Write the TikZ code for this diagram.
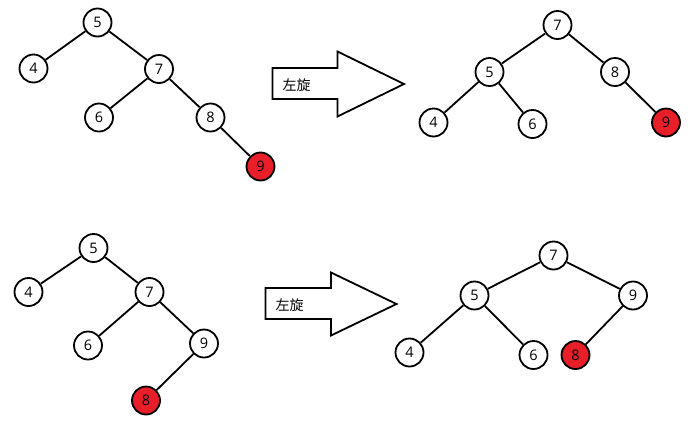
\documentclass[tikz,border=0pt]{standalone}
\usepackage{fontspec}
\setmainfont{Open Sans}
\newfontfamily\cjk{Noto Sans CJK SC}
\definecolor{nodered}{RGB}{232,30,40}
\begin{document}
\begin{tikzpicture}[x=1pt,y=-1pt,
  tnode/.style={circle,draw=black,line width=1.8pt,fill=white,minimum size=28pt,inner sep=0pt,font=\fontsize{14.5}{14.5}\selectfont},
  rnode/.style={tnode,fill=nodered},
  edge/.style={line width=1.8pt},
  bigarrow/.style={draw=black,line width=1.8pt,fill=white,line join=miter},
  lbl/.style={font=\cjk\fontsize{14}{14}\selectfont,anchor=west,inner sep=0pt}]
\useasboundingbox (0,0) rectangle (696,424);
% ---- top left tree
\node[tnode] (a5) at (97.5,22.5) {5};
\node[tnode] (a4) at (33.5,68.5) {4};
\node[tnode] (a7) at (159,69) {7};
\node[tnode] (a6) at (99,117.5) {6};
\node[tnode] (a8) at (210.5,117.5) {8};
\node[rnode] (a9) at (260.5,166.5) {9};
\draw[edge] (a5) -- (a4);
\draw[edge] (a5) -- (a7);
\draw[edge] (a7) -- (a6);
\draw[edge] (a7) -- (a8);
\draw[edge] (a8) -- (a9);
% ---- top arrow
\draw[bigarrow] (272.5,68) -- (337.5,68) -- (337.5,51.5) -- (404,84) -- (337.5,116.5) -- (337.5,99) -- (272.5,99) -- cycle;
\node[lbl] (t1) at (282.5,85) {左旋};
% ---- top right tree
\node[tnode] (b7) at (557.5,25) {7};
\node[tnode] (b5) at (489.5,72) {5};
\node[tnode] (b8) at (615,72) {8};
\node[tnode] (b4) at (433.5,122.5) {4};
\node[tnode] (b6) at (532.5,124) {6};
\node[rnode] (b9) at (666,122.5) {9};
\draw[edge] (b7) -- (b5);
\draw[edge] (b7) -- (b8);
\draw[edge] (b5) -- (b4);
\draw[edge] (b5) -- (b6);
\draw[edge] (b8) -- (b9);
% ---- bottom left tree
\node[tnode] (c5) at (93.5,248) {5};
\node[tnode] (c4) at (28.5,292) {4};
\node[tnode] (c7) at (149.5,292) {7};
\node[tnode] (c6) at (88,345.5) {6};
\node[tnode] (c9) at (204,343.5) {9};
\node[rnode] (c8) at (146,400.5) {8};
\draw[edge] (c5) -- (c4);
\draw[edge] (c5) -- (c7);
\draw[edge] (c7) -- (c6);
\draw[edge] (c7) -- (c9);
\draw[edge] (c9) -- (c8);
% ---- bottom arrow
\draw[bigarrow] (265.5,288) -- (331,288) -- (331,272.5) -- (396.5,304) -- (331,335.5) -- (331,319) -- (265.5,319) -- cycle;
\node[lbl] (t2) at (275.5,305) {左旋};
% ---- bottom right tree
\node[tnode] (d7) at (553.5,255.5) {7};
\node[tnode] (d5) at (474.5,295.5) {5};
\node[tnode] (d9) at (633,295.5) {9};
\node[tnode] (d4) at (409.5,352.5) {4};
\node[tnode] (d6) at (533.5,355) {6};
\node[rnode] (d8) at (575.5,355) {8};
\draw[edge] (d7) -- (d5);
\draw[edge] (d7) -- (d9);
\draw[edge] (d5) -- (d4);
\draw[edge] (d5) -- (d6);
\draw[edge] (d9) -- (d8);
\end{tikzpicture}
\end{document}
